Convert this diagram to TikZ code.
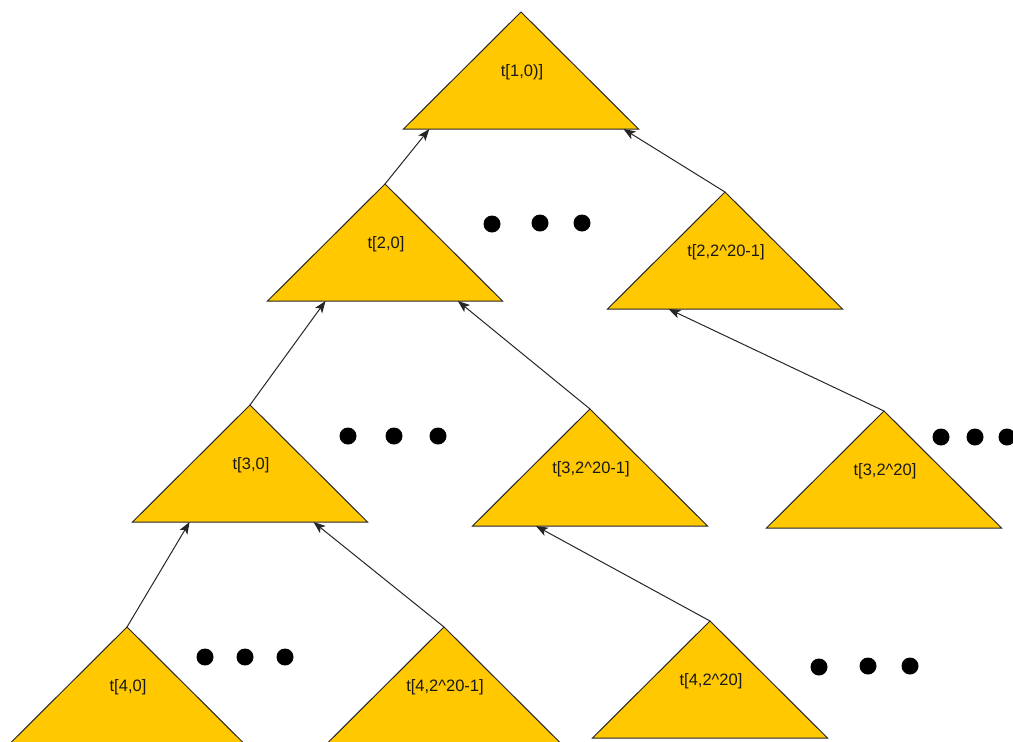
\documentclass[tikz,border=0pt]{standalone}
\usepackage{fontspec}
\setmainfont{Liberation Sans}
\usetikzlibrary{calc,arrows.meta}

\definecolor{treefill}{HTML}{FFC800}

\tikzset{
  tree/.style={fill=treefill, draw=black!85, line width=1pt, line join=miter},
  lbl/.style={font=\fontsize{16.5}{18}\selectfont, inner sep=0pt, text=black!90},
  link/.style={draw=black!85, line width=1pt,
    -{Stealth[length=12pt,width=9pt,inset=3pt]}},
  dot/.style={fill=black},
}

% subtree: apex at (x,y); base corners <name>-l and <name>-r
\newcommand\subtree[4]{%
  \coordinate (#1) at (#2,#3);
  \coordinate (#1-l) at ({#2-117.5},{#3+117});
  \coordinate (#1-r) at ({#2+117.5},{#3+117});
  \filldraw[tree] (#1) -- (#1-l) -- (#1-r) -- cycle;
  \node[lbl] (#1-t) at ({#2+1},{#3+60}) {#4};
}

\begin{document}
\begin{tikzpicture}[x=1pt,y=-1pt]
  \useasboundingbox (0,0) rectangle (1013,742);

  \subtree{t10}{521}{12}{t[1,0)]}
  \subtree{t20}{385}{184}{t[2,0]}
  \subtree{t2b}{725}{192}{t[2,2\^{}20-1]}
  \subtree{t30}{250}{405}{t[3,0]}
  \subtree{t3b}{590}{409}{t[3,2\^{}20-1]}
  \subtree{t3c}{884}{411}{t[3,2\^{}20]}
  \subtree{t40}{127}{627}{t[4,0]}
  \subtree{t4b}{444}{627}{t[4,2\^{}20-1]}
  \subtree{t4c}{710}{621}{t[4,2\^{}20]}

  % child-to-parent links
  \draw[link] (t20) -- ($(t10-l)!0.11!(t10-r)$);
  \draw[link] (t2b) -- ($(t10-l)!0.936!(t10-r)$);
  \draw[link] (t30) -- ($(t20-l)!0.247!(t20-r)$);
  \draw[link] (t3b) -- ($(t20-l)!0.81!(t20-r)$);
  \draw[link] (t3c) -- ($(t2b-l)!0.26!(t2b-r)$);
  \draw[link] (t40) -- ($(t30-l)!0.243!(t30-r)$);
  \draw[link] (t4b) -- ($(t30-l)!0.77!(t30-r)$);
  \draw[link] (t4c) -- ($(t3b-l)!0.27!(t3b-r)$);

  % ellipses between siblings
  \foreach \x/\y in {492/224, 540/223, 582/223,
                     348/436, 394/436, 438/436,
                     941/437, 975/437, 1007/437,
                     205/657, 245/657, 285/657,
                     819/667, 868/666, 910/666}
    \fill[dot] (\x,\y) circle (8.5);
\end{tikzpicture}
\end{document}
